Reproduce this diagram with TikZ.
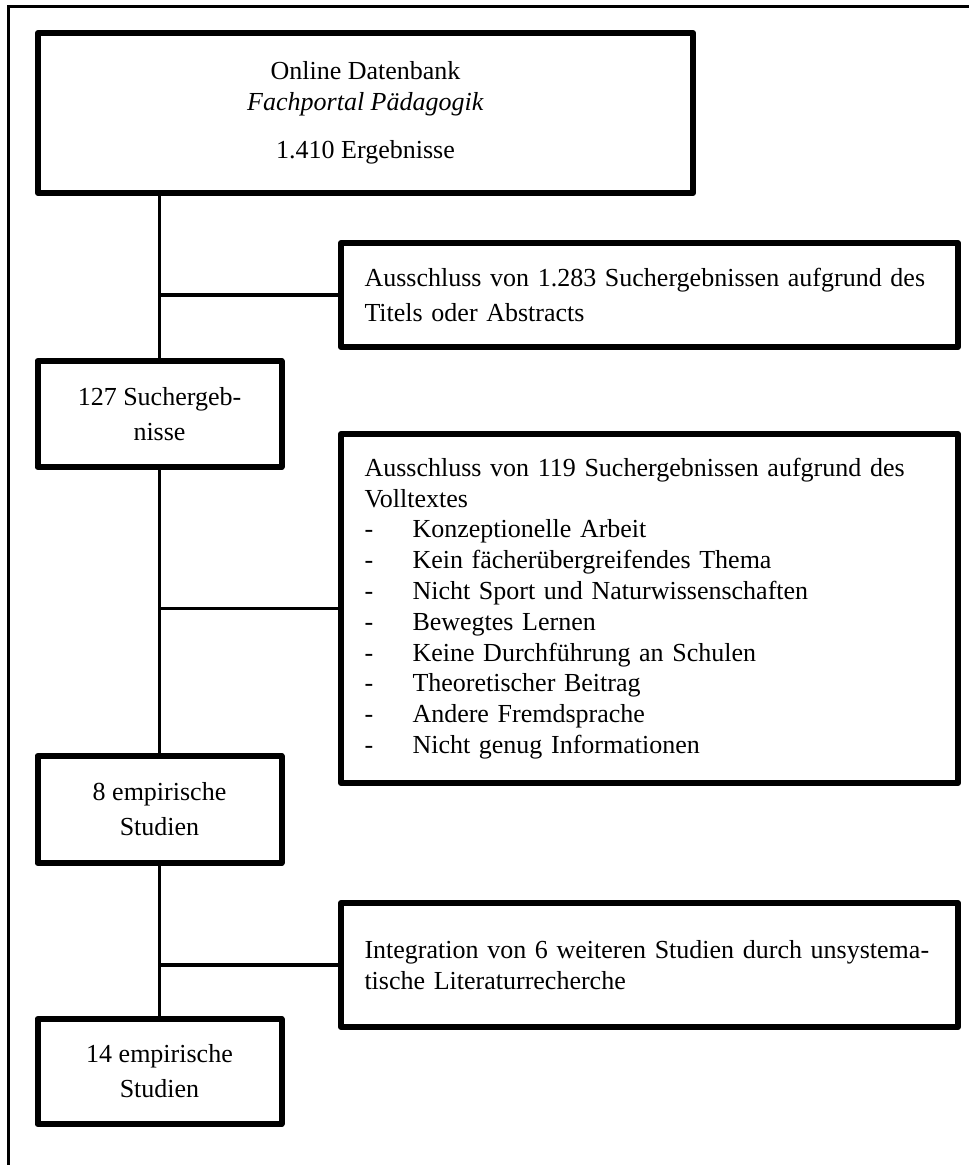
\documentclass[tikz,border=0pt]{standalone}
\usepackage{fontspec}
\setmainfont{Liberation Serif}
\usetikzlibrary{positioning}
\tikzstyle{flowbox} = [rectangle, draw=black, line width=3pt, line join=round, fill=white, inner sep=0pt, font=\fontsize{13}{17.5}\selectfont]
\tikzstyle{stage} = [flowbox, align=center, minimum width=122pt]
\tikzstyle{exclude} = [flowbox, align=left, text width=285pt, minimum width=308.5pt]
\tikzstyle{link} = [line width=1.6pt]
\newcommand{\dashitem}[1]{\makebox[24pt][l]{-}#1}

\begin{document}
\begin{tikzpicture}[x=0.5pt, y=-0.5pt]
\useasboundingbox (0,0) rectangle (968,1165);
% outer frame (only top and left edge on the page)
\draw[line width=1.5pt] (8.6,1175) |- (980,7);

% search
\node (top) [flowbox, align=center, minimum width=327.5pt, minimum height=80pt, font=\fontsize{13}{15.5}\selectfont] at (365.5,113) {
Online Datenbank\\
\textit{Fachportal Pädagogik}\\[8.5pt]
1.410 Ergebnisse
};

% left column
\node (erg127) [stage, minimum height=53pt] at (159.5,414) {127 Suchergeb-\\nisse};
\node (emp8) [stage, minimum height=53.5pt] at (159.5,809.5) {8 empirische\\Studien};
\node (emp14) [stage, minimum height=52.5pt] at (159.5,1071.5) {14 empirische\\Studien};

% right column
\node (excl1) [exclude, minimum height=52pt] at (649.5,295) {
Ausschluss von 1.283 Suchergebnissen aufgrund des\\
Titels oder Abstracts
};

\node (excl2) [exclude, minimum height=174.5pt, font=\fontsize{13}{15.4}\selectfont] at (649.5,608.5) {
Ausschluss von 119 Suchergebnissen aufgrund des\\
Volltextes\\
\dashitem{Konzeptionelle Arbeit}\\
\dashitem{Kein fächerübergreifendes Thema}\\
\dashitem{Nicht Sport und Naturwissenschaften}\\
\dashitem{Bewegtes Lernen}\\
\dashitem{Keine Durchführung an Schulen}\\
\dashitem{Theoretischer Beitrag}\\
\dashitem{Andere Fremdsprache}\\
\dashitem{Nicht genug Informationen}
};

\node (integ) [exclude, minimum height=62pt, font=\fontsize{13}{15.5}\selectfont] at (649.5,965) {
Integration von 6 weiteren Studien durch unsystema-\\
tische Literaturrecherche
};

% trunk
\draw[link] (top.south -| erg127.north) -- (erg127.north);
\draw[link] (erg127.south) -- (emp8.north);
\draw[link] (emp8.south) -- (emp14.north);

% branches
\draw[link] (excl1.west -| erg127.south) -- (excl1.west);
\draw[link] (excl2.west -| erg127.south) -- (excl2.west);
\draw[link] (integ.west -| emp8.south) -- (integ.west);
\end{tikzpicture}
\end{document}
